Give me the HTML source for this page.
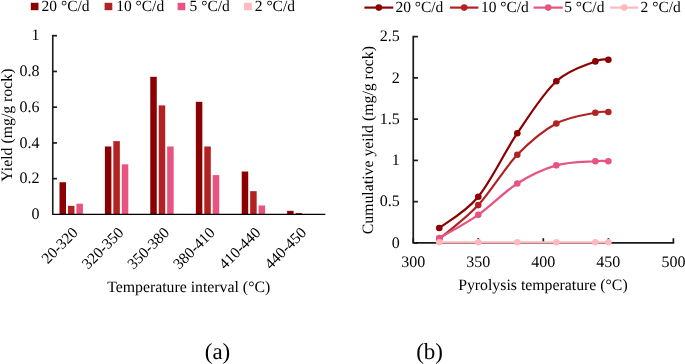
<!DOCTYPE html>
<html><head><meta charset="utf-8"><style>
html,body{margin:0;padding:0;background:#fff;width:685px;height:364px;overflow:hidden}
svg{display:block;will-change:transform}
text{font-family:"Liberation Serif", serif;fill:#000;text-rendering:geometricPrecision}
</style></head><body>
<svg width="685" height="364" viewBox="0 0 685 364">
<rect x="59.51" y="182.23" width="6.5" height="32.17" fill="#8B0000"/>
<rect x="104.89" y="146.49" width="6.5" height="67.91" fill="#8B0000"/>
<rect x="150.26" y="76.80" width="6.5" height="137.60" fill="#8B0000"/>
<rect x="195.84" y="101.82" width="6.5" height="112.58" fill="#8B0000"/>
<rect x="241.71" y="171.51" width="6.5" height="42.89" fill="#8B0000"/>
<rect x="287.09" y="210.83" width="6.5" height="3.57" fill="#8B0000"/>
<rect x="67.96" y="205.82" width="6.5" height="8.58" fill="#B22222"/>
<rect x="113.34" y="141.13" width="6.5" height="73.27" fill="#B22222"/>
<rect x="158.71" y="105.39" width="6.5" height="109.01" fill="#B22222"/>
<rect x="204.29" y="146.49" width="6.5" height="67.91" fill="#B22222"/>
<rect x="250.16" y="191.17" width="6.5" height="23.23" fill="#B22222"/>
<rect x="295.54" y="212.97" width="6.5" height="1.43" fill="#B22222"/>
<rect x="76.41" y="203.68" width="6.5" height="10.72" fill="#E75480"/>
<rect x="121.79" y="164.36" width="6.5" height="50.04" fill="#E75480"/>
<rect x="167.16" y="146.49" width="6.5" height="67.91" fill="#E75480"/>
<rect x="212.74" y="175.09" width="6.5" height="39.31" fill="#E75480"/>
<rect x="258.61" y="205.47" width="6.5" height="8.94" fill="#E75480"/>
<rect x="130.24" y="213.86" width="6.5" height="0.54" fill="#FFB8BE"/>
<path d="M52.75 34.90 V214.40" fill="none" stroke="#1a1a1a" stroke-width="1.6"/>
<path d="M52.75 213.90 Q52.75 214.40 53.25 214.40 H325.30" fill="none" stroke="#000" stroke-width="1.35"/>
<text x="39.6" y="219.00" text-anchor="end" font-size="16">0</text>
<path d="M52.75 178.66 H56.95" stroke="#1a1a1a" stroke-width="1.7"/>
<text x="39.6" y="183.26" text-anchor="end" font-size="16">0.2</text>
<path d="M52.75 142.92 H56.95" stroke="#1a1a1a" stroke-width="1.7"/>
<text x="39.6" y="147.52" text-anchor="end" font-size="16">0.4</text>
<path d="M52.75 107.18 H56.95" stroke="#1a1a1a" stroke-width="1.7"/>
<text x="39.6" y="111.78" text-anchor="end" font-size="16">0.6</text>
<path d="M52.75 71.44 H56.95" stroke="#1a1a1a" stroke-width="1.7"/>
<text x="39.6" y="76.04" text-anchor="end" font-size="16">0.8</text>
<path d="M52.75 35.70 H56.95" stroke="#1a1a1a" stroke-width="1.7"/>
<text x="39.6" y="40.30" text-anchor="end" font-size="16">1</text>
<text transform="translate(78.80,233.5) rotate(-45)" text-anchor="end" font-size="15.5">20-320</text>
<text transform="translate(124.48,233.5) rotate(-45)" text-anchor="end" font-size="15.5">320-350</text>
<text transform="translate(170.16,233.5) rotate(-45)" text-anchor="end" font-size="15.5">350-380</text>
<text transform="translate(215.84,233.5) rotate(-45)" text-anchor="end" font-size="15.5">380-410</text>
<text transform="translate(261.52,233.5) rotate(-45)" text-anchor="end" font-size="15.5">410-440</text>
<text transform="translate(307.20,233.5) rotate(-45)" text-anchor="end" font-size="15.5">440-450</text>
<text x="188.7" y="291.6" text-anchor="middle" font-size="15.8">Temperature interval (°C)</text>
<text transform="translate(12.2,125.15) rotate(-90)" text-anchor="middle" font-size="15.8">Yield (mg/g rock)</text>
<rect x="30.8" y="2.8" width="7.7" height="7.4" fill="#8B0000"/>
<text x="41.6" y="10.9" font-size="15.5">20 °C/d</text>
<rect x="104.6" y="2.8" width="7.7" height="7.4" fill="#B22222"/>
<text x="116.2" y="10.9" font-size="15.5">10 °C/d</text>
<rect x="177.6" y="2.8" width="7.7" height="7.4" fill="#E75480"/>
<text x="189.6" y="10.9" font-size="15.5">5 °C/d</text>
<rect x="244.1" y="2.8" width="7.7" height="7.4" fill="#FFB8BE"/>
<text x="254.8" y="10.9" font-size="15.5">2 °C/d</text>
<path d="M413.25 35.80 V242.90 H673.40 V238.20" fill="none" stroke="#1a1a1a" stroke-width="1.7" stroke-linejoin="round"/>
<path d="M413.25 242.90 H417.95" stroke="#1a1a1a" stroke-width="1.7"/>
<text x="399.8" y="247.50" text-anchor="end" font-size="16">0</text>
<path d="M413.25 201.65 H417.95" stroke="#1a1a1a" stroke-width="1.7"/>
<text x="399.8" y="206.25" text-anchor="end" font-size="16">0.5</text>
<path d="M413.25 160.40 H417.95" stroke="#1a1a1a" stroke-width="1.7"/>
<text x="399.8" y="165.00" text-anchor="end" font-size="16">1</text>
<path d="M413.25 119.15 H417.95" stroke="#1a1a1a" stroke-width="1.7"/>
<text x="399.8" y="123.75" text-anchor="end" font-size="16">1.5</text>
<path d="M413.25 77.90 H417.95" stroke="#1a1a1a" stroke-width="1.7"/>
<text x="399.8" y="82.50" text-anchor="end" font-size="16">2</text>
<path d="M413.25 36.65 H417.95" stroke="#1a1a1a" stroke-width="1.7"/>
<text x="399.8" y="41.25" text-anchor="end" font-size="16">2.5</text>
<path d="M413.25 242.90 V238.20" stroke="#1a1a1a" stroke-width="1.7"/>
<text x="413.25" y="266.7" text-anchor="middle" font-size="16">300</text>
<path d="M478.29 242.90 V238.20" stroke="#1a1a1a" stroke-width="1.7"/>
<text x="478.29" y="266.7" text-anchor="middle" font-size="16">350</text>
<path d="M543.33 242.90 V238.20" stroke="#1a1a1a" stroke-width="1.7"/>
<text x="543.33" y="266.7" text-anchor="middle" font-size="16">400</text>
<path d="M608.36 242.90 V238.20" stroke="#1a1a1a" stroke-width="1.7"/>
<text x="608.36" y="266.7" text-anchor="middle" font-size="16">450</text>
<text x="673.40" y="266.7" text-anchor="middle" font-size="16">500</text>
<text x="542.9" y="290.0" text-anchor="middle" font-size="15.8">Pyrolysis temperature (°C)</text>
<text transform="translate(372.9,140.15) rotate(-90)" text-anchor="middle" font-size="15.8">Cumulative yeild (mg/g rock)</text>
<path d="M439.26 228.05 C445.77 222.83 465.28 212.51 478.29 196.70 C491.30 180.89 504.30 152.43 517.31 133.18 C530.32 113.93 543.32 93.16 556.33 81.20 C569.34 69.24 586.68 64.97 595.36 61.40 C604.03 57.82 606.19 60.02 608.36 59.75" fill="none" stroke="#8B0000" stroke-width="2.2" stroke-linejoin="round"/>
<circle cx="439.26" cy="228.05" r="3.3" fill="#8B0000"/>
<circle cx="478.29" cy="196.70" r="3.3" fill="#8B0000"/>
<circle cx="517.31" cy="133.18" r="3.3" fill="#8B0000"/>
<circle cx="556.33" cy="81.20" r="3.3" fill="#8B0000"/>
<circle cx="595.36" cy="61.40" r="3.3" fill="#8B0000"/>
<circle cx="608.36" cy="59.75" r="3.3" fill="#8B0000"/>
<path d="M439.26 238.94 C445.77 233.30 465.28 219.14 478.29 205.12 C491.30 191.09 504.30 168.40 517.31 154.79 C530.32 141.18 543.32 130.45 556.33 123.44 C569.34 116.43 586.68 114.61 595.36 112.72 C604.03 110.82 606.19 112.17 608.36 112.06" fill="none" stroke="#B22222" stroke-width="2.2" stroke-linejoin="round"/>
<circle cx="439.26" cy="238.94" r="3.3" fill="#B22222"/>
<circle cx="478.29" cy="205.12" r="3.3" fill="#B22222"/>
<circle cx="517.31" cy="154.79" r="3.3" fill="#B22222"/>
<circle cx="556.33" cy="123.44" r="3.3" fill="#B22222"/>
<circle cx="595.36" cy="112.72" r="3.3" fill="#B22222"/>
<circle cx="608.36" cy="112.06" r="3.3" fill="#B22222"/>
<path d="M439.26 237.95 C445.77 234.10 465.28 223.93 478.29 214.85 C491.30 205.77 504.30 191.75 517.31 183.50 C530.32 175.25 543.32 169.06 556.33 165.35 C569.34 161.64 586.68 161.91 595.36 161.23 C604.03 160.54 606.19 161.23 608.36 161.23" fill="none" stroke="#E75480" stroke-width="2.2" stroke-linejoin="round"/>
<circle cx="439.26" cy="237.95" r="3.3" fill="#E75480"/>
<circle cx="478.29" cy="214.85" r="3.3" fill="#E75480"/>
<circle cx="517.31" cy="183.50" r="3.3" fill="#E75480"/>
<circle cx="556.33" cy="165.35" r="3.3" fill="#E75480"/>
<circle cx="595.36" cy="161.23" r="3.3" fill="#E75480"/>
<circle cx="608.36" cy="161.23" r="3.3" fill="#E75480"/>
<path d="M439.26 242.32 C445.77 242.32 465.28 242.32 478.29 242.32 C491.30 242.32 504.30 242.32 517.31 242.32 C530.32 242.32 543.32 242.32 556.33 242.32 C569.34 242.32 586.68 242.32 595.36 242.32 C604.03 242.32 606.19 242.32 608.36 242.32" fill="none" stroke="#FFB8BE" stroke-width="2.2" stroke-linejoin="round"/>
<circle cx="439.26" cy="242.32" r="3.3" fill="#FFB8BE"/>
<circle cx="478.29" cy="242.32" r="3.3" fill="#FFB8BE"/>
<circle cx="517.31" cy="242.32" r="3.3" fill="#FFB8BE"/>
<circle cx="556.33" cy="242.32" r="3.3" fill="#FFB8BE"/>
<circle cx="595.36" cy="242.32" r="3.3" fill="#FFB8BE"/>
<circle cx="608.36" cy="242.32" r="3.3" fill="#FFB8BE"/>
<path d="M364.4 7.6 H393.3" stroke="#8B0000" stroke-width="2.2"/>
<circle cx="378.85" cy="7.6" r="3.3" fill="#8B0000"/>
<text x="395.4" y="12.0" font-size="15.5">20 °C/d</text>
<path d="M449.9 7.6 H478.4" stroke="#B22222" stroke-width="2.2"/>
<circle cx="464.15" cy="7.6" r="3.3" fill="#B22222"/>
<text x="480.9" y="12.0" font-size="15.5">10 °C/d</text>
<path d="M533.6 7.6 H562.8" stroke="#E75480" stroke-width="2.2"/>
<circle cx="548.20" cy="7.6" r="3.3" fill="#E75480"/>
<text x="564.2" y="12.0" font-size="15.5">5 °C/d</text>
<path d="M610.1 7.6 H638.4" stroke="#FFB8BE" stroke-width="2.2"/>
<circle cx="624.25" cy="7.6" r="3.3" fill="#FFB8BE"/>
<text x="640.6" y="12.0" font-size="15.5">2 °C/d</text>
<text x="217.5" y="359" text-anchor="middle" font-size="23">(a)</text>
<text x="429.6" y="359" text-anchor="middle" font-size="23">(b)</text>
</svg>
</body></html>
